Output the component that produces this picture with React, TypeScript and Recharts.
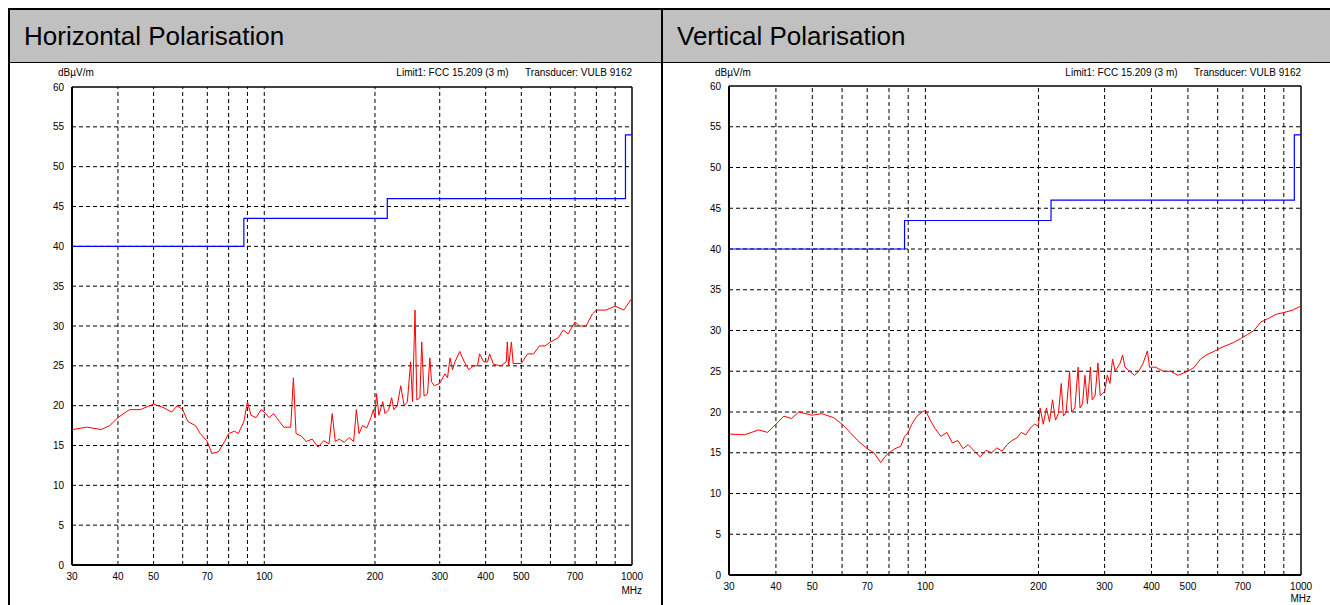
import { ComposedChart, Line, XAxis, YAxis, ReferenceLine } from 'recharts'

const limitLine = [
  { f: 30, v: 40 }, { f: 88, v: 40 }, { f: 88, v: 43.5 }, { f: 216, v: 43.5 },
  { f: 216, v: 46 }, { f: 960, v: 46 }, { f: 960, v: 54 }, { f: 1000, v: 54 },
]

const horizontal: [number, number][] = [
  [30, 17], [33, 17.3], [36, 17], [38, 17.5], [40, 18.5], [43, 19.5], [46, 19.5], [50, 20.2], [53, 19.8],
  [56, 19.2], [58, 20], [60, 19.5], [62, 18], [65, 17.5], [67, 16.5], [70, 15.5], [72, 14], [75, 14.2],
  [78, 15.5], [80, 16.5], [83, 16.8], [85, 16.5], [88, 18], [90, 20.5], [92, 18.8], [95, 18.5], [98, 19.5],
  [100, 19.2], [103, 18.5], [106, 19], [110, 18], [113, 17.3], [118, 17.3], [120, 23.5], [122, 16.5],
  [126, 16.2], [130, 15.5], [135, 15.8], [140, 14.8], [145, 15.6], [150, 15.2], [153, 19], [156, 15.5],
  [160, 15.8], [165, 15.4], [170, 16], [175, 15.5], [178, 19.5], [181, 16.5], [185, 17.5], [190, 17.2],
  [195, 18.5], [198, 19.5], [200, 18.5], [202, 21.5], [205, 18.8], [210, 20.5], [213, 19], [218, 19.5],
  [222, 21], [225, 19.5], [230, 20], [235, 22.5], [240, 20], [245, 20.5], [250, 25.5], [253, 20.5],
  [257, 32], [260, 20.7], [265, 21], [268, 28], [272, 21.2], [278, 21.5], [282, 26], [285, 23], [290, 22.5],
  [300, 22.8], [310, 24], [315, 23.5], [320, 26], [325, 24.5], [330, 25.5], [340, 26.8], [350, 25.5],
  [360, 24.5], [370, 25], [380, 25], [385, 26.5], [395, 25.5], [405, 25.5], [410, 26.5], [420, 25.2],
  [440, 25], [455, 25.5], [458, 28], [462, 25], [470, 28], [475, 25.3], [500, 25.3], [520, 26.5],
  [540, 26.5], [560, 27.5], [580, 27.5], [600, 28], [630, 28.5], [650, 29.5], [670, 29], [700, 30.5],
  [720, 30], [750, 30], [780, 31.5], [800, 32], [850, 32], [900, 32.5], [950, 32], [1000, 33.5],
]

const vertical: [number, number][] = [
  [30, 17.3], [33, 17.2], [36, 17.8], [38, 17.5], [40, 18.5], [42, 19.5], [44, 19.2], [46, 20], [50, 19.6],
  [53, 19.8], [57, 19.3], [60, 18.5], [63, 17.5], [66, 16.5], [70, 15.5], [73, 15], [76, 13.8], [78, 14.5],
  [80, 15], [83, 15.5], [86, 15.8], [88, 17], [90, 17.5], [92, 18.5], [95, 19.5], [98, 20], [100, 20.2],
  [103, 19], [106, 18], [110, 17], [114, 17.5], [118, 16.2], [122, 16.5], [126, 15.5], [130, 16],
  [135, 15.2], [140, 14.5], [145, 15.3], [150, 15], [155, 15.6], [160, 15.2], [165, 16], [170, 16.5],
  [175, 16.8], [180, 17.5], [185, 17.2], [190, 18], [195, 18.5], [200, 18.3], [202, 20.5], [206, 18.5],
  [210, 20.5], [214, 18.8], [218, 21.5], [222, 19], [226, 19.8], [230, 23.5], [233, 19.5], [237, 20],
  [242, 25], [245, 20], [250, 20.5], [255, 25.5], [258, 20.5], [262, 21], [266, 24.5], [270, 21],
  [275, 25.5], [278, 21.5], [283, 22], [288, 26], [292, 22], [300, 22.5], [305, 24.5], [310, 23.5],
  [315, 26.5], [320, 25], [330, 26], [335, 27], [340, 25.5], [350, 25], [360, 24.5], [370, 25], [380, 26],
  [390, 27.5], [395, 25.5], [410, 25.5], [430, 25], [450, 25], [470, 24.5], [500, 25], [520, 25.5],
  [540, 26.5], [560, 27], [590, 27.5], [620, 28], [660, 28.5], [690, 29], [720, 29.5], [750, 30],
  [780, 31], [820, 31.5], [860, 32], [900, 32.2], [950, 32.5], [1000, 33],
]

const xTicks = [30, 40, 50, 70, 100, 200, 300, 400, 500, 700, 1000]
const xGrid = [40, 50, 60, 70, 80, 90, 100, 200, 300, 400, 500, 600, 700, 800, 900]
const yTicks = [0, 5, 10, 15, 20, 25, 30, 35, 40, 45, 50, 55, 60]

const font = 'Liberation Sans, Arial, sans-serif'

function Panel({ title, data, left, width, margin, xh, mhzTop }: {
  title: string
  data: [number, number][]
  left: number
  width: number
  margin: { top: number; right: number; left: number; bottom: number }
  xh: number
  mhzTop: number
}) {
  const meas = data.map(([f, v]) => ({ f, v }))
  return (
    <div style={{ position: 'absolute', left, top: 0, width, height: 597 }}>
      <div style={{ height: 52, background: '#c0c0c0', borderBottom: '1px solid #000', fontFamily: font, fontSize: 26, lineHeight: '52px', paddingLeft: 14 }}>{title}</div>
      <div style={{ position: 'absolute', left: margin.left + 30 - 14, top: 57, fontSize: 10, fontFamily: font }}>dBµV/m</div>
      <div style={{ position: 'absolute', right: margin.right, top: 57, fontSize: 10, fontFamily: font, whiteSpace: 'pre' }}>Limit1: FCC 15.209 (3 m)      Transducer: VULB 9162</div>
      <div style={{ position: 'absolute', right: margin.right - 10, top: mhzTop, fontSize: 10, lineHeight: '11px', fontFamily: font }}>MHz</div>
      <div style={{ position: 'absolute', left: 0, top: 54 }}>
        <ComposedChart width={width} height={543} margin={margin}>
          <XAxis type="number" dataKey="f" scale="log" domain={[30, 1000]} ticks={xTicks} allowDataOverflow
            tickLine={false} axisLine={{ stroke: '#000', strokeWidth: 2 }} height={xh}
            tick={{ fontSize: 10, fill: '#000', fontFamily: font }} />
          <YAxis type="number" domain={[0, 60]} ticks={yTicks} width={30} tickLine={false}
            axisLine={{ stroke: '#000', strokeWidth: 2 }} tick={{ fontSize: 10, fill: '#000', fontFamily: font }} />
          {xGrid.map((x) => <ReferenceLine key={'x' + x} x={x} stroke="#000" strokeDasharray="4 3" />)}
          {yTicks.slice(1, -1).map((y) => <ReferenceLine key={'y' + y} y={y} stroke="#000" strokeDasharray="4 3" />)}
          <ReferenceLine y={60} stroke="#000" strokeWidth={1.5} />
          <ReferenceLine x={1000} stroke="#000" strokeWidth={1.5} />
          <Line data={limitLine} dataKey="v" stroke="#0000ff" strokeWidth={1.2} dot={false} isAnimationActive={false} type="linear" />
          <Line data={meas} dataKey="v" stroke="#ff0000" strokeWidth={1} dot={false} isAnimationActive={false} type="linear" />
        </ComposedChart>
      </div>
    </div>
  )
}

export default function App() {
  return (
    <div style={{ position: 'absolute', left: 8, top: 8, width: 1322, height: 597, borderTop: '2px solid #000', borderLeft: '2px solid #000', boxSizing: 'border-box', overflow: 'hidden' }}>
      <Panel title="Horizontal Polarisation" data={horizontal} left={0} width={653}
        margin={{ top: 23, right: 31, left: 32, bottom: 12 }} xh={30} mhzTop={575} />
      <div style={{ position: 'absolute', left: 651, top: 0, width: 2, height: 597, background: '#000' }} />
      <Panel title="Vertical Polarisation" data={vertical} left={653} width={667}
        margin={{ top: 22, right: 29, left: 36, bottom: 7 }} xh={25} mhzTop={583} />
    </div>
  )
}
